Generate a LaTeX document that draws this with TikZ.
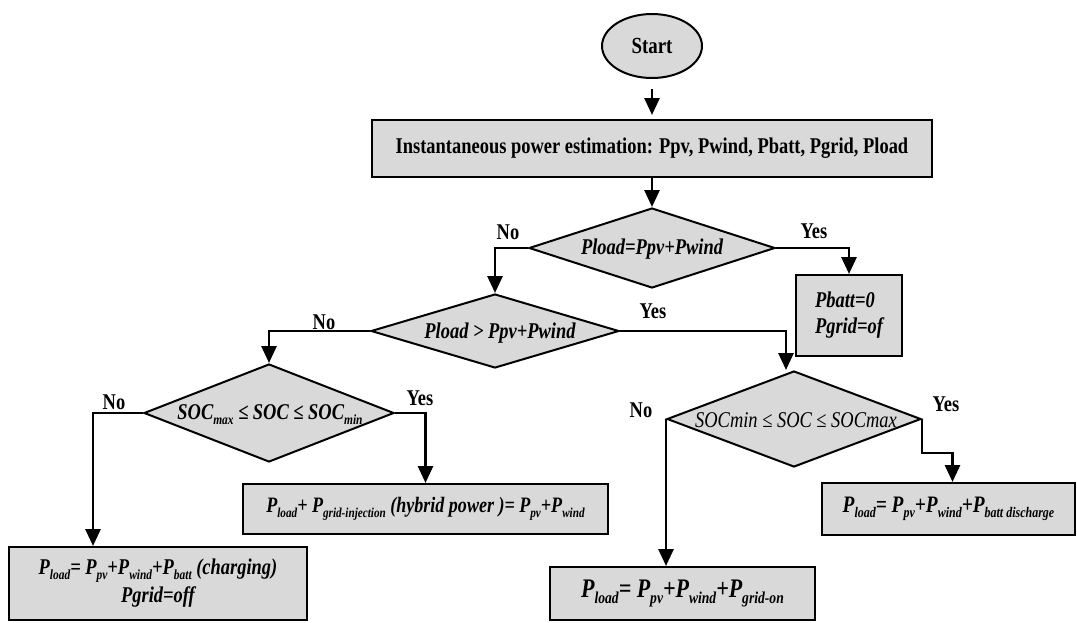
\documentclass[tikz,border=0pt]{standalone}
\usepackage{fontspec}
\setmainfont{Liberation Serif}[FakeStretch=0.82]
\usepackage{graphicx}
\usetikzlibrary{shapes.geometric,arrows.meta,calc}
\definecolor{boxgray}{HTML}{D9D9D9}
\newcommand{\sbx}[1]{\raisebox{-0.22em}{\scalebox{0.62}{#1}}}
\newcommand{\fs}[2]{\fontsize{#1}{#2}\selectfont}
\begin{document}
\begin{tikzpicture}[x=1pt,y=-1pt,
  shp/.style={draw=black, line width=2pt, fill=boxgray},
  rbox/.style={shp, rectangle, inner sep=0pt},
  dia/.style={shp, diamond, inner sep=0pt},
  arr/.style={line width=2.8pt, -{Triangle[width=15pt,length=17pt]}},
  lbl/.style={font=\fs{22.5}{25}\bfseries, inner sep=0pt},
  txt/.style={font=\fs{22.5}{25}\bfseries\itshape, inner sep=0pt, align=center},
]
\useasboundingbox (0,0) rectangle (1077,622);

% shapes
\node[shp, ellipse, minimum width=100pt, minimum height=64pt, inner sep=0pt, font=\fs{23}{25}\bfseries] (start) at (652,46) {Start};
\node[rbox, minimum width=560pt, minimum height=57pt, font=\fs{22.5}{25}\bfseries] (est) at (652,148.5) {Instantaneous power estimation: Ppv, Pwind, Pbatt, Pgrid, Pload};

\node[dia, minimum width=246pt, minimum height=80pt] (d1) at (652,248) {};
\node[txt] (d1t) at (652,249) {Pload=Ppv+Pwind};

\node[dia, minimum width=248pt, minimum height=74pt] (d2) at (495,331) {};
\node[txt] (d2t) at (500,333) {Pload > Ppv+Pwind};

\node[dia, minimum width=250pt, minimum height=98pt] (d4) at (269,413) {};
\node[txt] (d4t) at (270,415) {SOC\sbx{max} ≤ SOC ≤ SOC\sbx{min}};

\node[dia, minimum width=254pt, minimum height=96pt] (d3) at (794,419) {};
\node[txt, font=\fs{22.5}{25}\itshape] (d3t) at (796,420) {SOCmin ≤ SOC ≤ SOCmax};

\node[rbox, minimum width=106pt, minimum height=81pt, align=left, font=\fs{22.5}{26}\bfseries\itshape] (pb) at (849,315.5) {Pbatt=0\\Pgrid=of};

\node[rbox, minimum width=298pt, minimum height=73pt, align=center, font=\fs{22.5}{28}\bfseries\itshape] (b1) at (158,583.5)
  {P\sbx{load}= P\sbx{pv}+P\sbx{wind}+P\sbx{batt} (charging)\\Pgrid=off};
\node[rbox, minimum width=365pt, minimum height=50pt, font=\fs{22}{24}\bfseries\itshape] (b2) at (425.5,509)
  {P\sbx{load}+ P\sbx{grid-injection} (hybrid power )= P\sbx{pv}+P\sbx{wind}};
\node[rbox, minimum width=265pt, minimum height=53pt, font=\fs{26.8}{28}\bfseries\itshape] (b3) at (682.5,593.5)
  {P\sbx{load}= P\sbx{pv}+P\sbx{wind}+P\sbx{grid-on}};
\node[rbox, minimum width=253pt, minimum height=52pt, font=\fs{23.6}{25}\bfseries\itshape] (b4) at (948.5,509)
  {P\sbx{load}= P\sbx{pv}+P\sbx{wind}+P\sbx{batt discharge}};

% connectors
\draw[arr, shorten <=10pt, shorten >=4pt] (start) -- (est);
\draw[arr] (est) -- (d1);
\draw[arr] (d1.west) -| (d2.north);
\draw[arr] (d1.east) -| (pb.north);
\draw[arr] (d2.west) -| (d4.north);
\draw[arr] (d2.east) -| ([xshift=-8pt]d3.north);
\draw[arr] (d4.west) -| ([xshift=-65pt]b1.north);
\draw[arr] (d4.east) -| (b2.north);
\draw[arr] (d3.west) -- (d3.west |- b3.north);
\draw[arr] (d3.east) -- ++(0,34) -| ([xshift=4pt]b4.north);

% labels
\node[lbl] (n1) at (508,232) {No};
\node[lbl] (y1) at (814,231) {Yes};
\node[lbl] (n2) at (324,322) {No};
\node[lbl] (y2) at (653,311) {Yes};
\node[lbl] (n4) at (114,402) {No};
\node[lbl] (y4) at (420,398) {Yes};
\node[lbl] (n3) at (641,410) {No};
\node[lbl] (y3) at (946,404) {Yes};
\end{tikzpicture}
\end{document}
